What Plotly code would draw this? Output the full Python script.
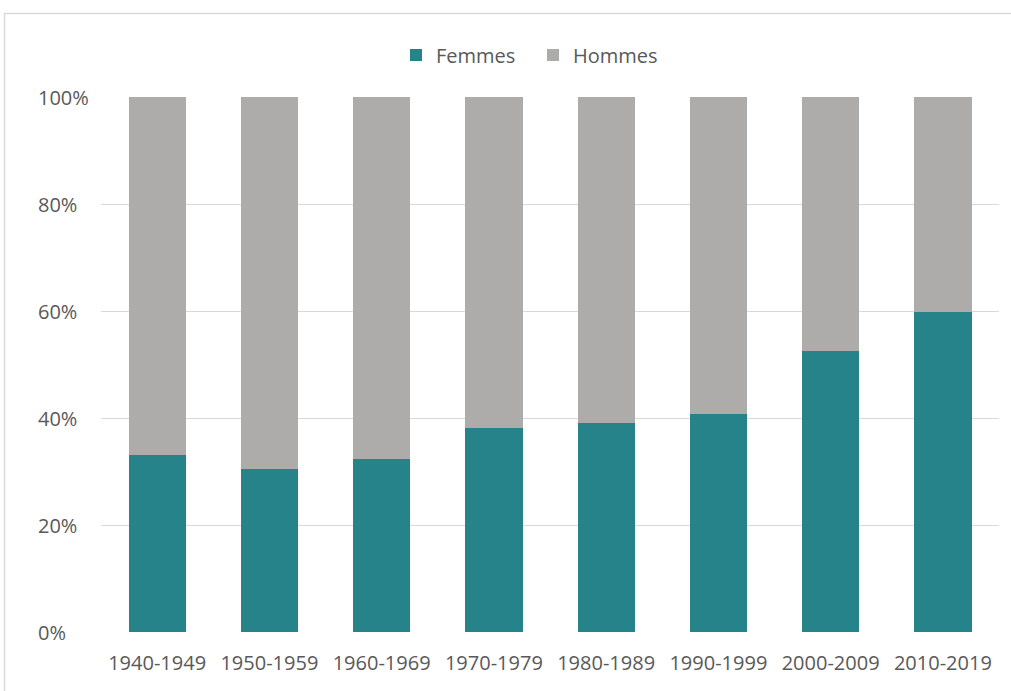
import plotly.graph_objects as go

decades = ["1940-1949", "1950-1959", "1960-1969", "1970-1979",
           "1980-1989", "1990-1999", "2000-2009", "2010-2019"]
femmes = [33.1, 30.5, 32.4, 38.1, 39.1, 40.7, 52.5, 59.8]
hommes = [66.9, 69.5, 67.6, 61.9, 60.9, 59.3, 47.5, 40.2]
ytick_vals = [0, 0.2, 0.4, 0.6, 0.8, 1.0]
ytick_text = ["0%", "20%", "40%", "60%", "80%", "100%"]

TEAL = "#268389"
GRAY = "#ADACAA"
TXT = "#595959"
FONT = "Open Sans"
FS = 20

fig = go.Figure()
fig.add_trace(go.Bar(name="Femmes", x=decades, y=[v / 100 for v in femmes],
                     marker=dict(color=TEAL, line=dict(width=0))))
fig.add_trace(go.Bar(name="Hommes", x=decades, y=[v / 100 for v in hommes],
                     marker=dict(color=GRAY, line=dict(width=0))))

W, H = 1011, 691
L, R, T, B = 101, 12, 97, 59
pw, ph = W - L - R, H - T - B

def px_x(x):
    return (x - L) / pw

def px_y(y):
    return (H - B - y) / ph

annotations = [dict(xref="paper", yref="y", x=px_x(36), y=v, text=t,
                    xanchor="left", yanchor="middle", showarrow=False,
                    font=dict(family=FONT, size=FS, color=TXT))
               for v, t in zip(ytick_vals, ytick_text)]

fig.update_layout(
    barmode="stack",
    bargap=0.49,
    width=W, height=H,
    margin=dict(l=L, r=R, t=T, b=B),
    paper_bgcolor="white",
    plot_bgcolor="white",
    font=dict(family=FONT, size=FS, color=TXT),
    legend=dict(orientation="h", x=px_x(396), xanchor="left",
                y=px_y(55), yanchor="middle",
                font=dict(family=FONT, size=FS, color=TXT),
                itemwidth=30, traceorder="normal", entrywidth=92),
    annotations=annotations,
    shapes=[dict(type="rect", xref="paper", yref="paper",
                 x0=px_x(4.5), x1=px_x(1030), y0=px_y(720), y1=px_y(13.5),
                 line=dict(color="#D9D9D9", width=1.5), fillcolor="rgba(0,0,0,0)",
                 layer="below")],
)
fig.update_xaxes(showgrid=False, showline=False, ticks="",
                 tickfont=dict(family=FONT, size=FS, color=TXT),
                 ticklabelstandoff=17)
fig.update_yaxes(range=[0, 1], tickvals=ytick_vals, showticklabels=False,
                 showgrid=True, gridcolor="#D9D9D9", gridwidth=1,
                 zeroline=True, zerolinecolor="white", zerolinewidth=2,
                 showline=False, ticks="")

fig.write_html("out.html", config={"displayModeBar": False},
               post_script="document.body.style.margin='0';")
